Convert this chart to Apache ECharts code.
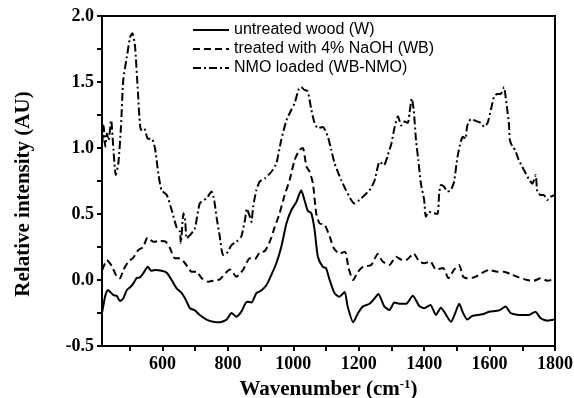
<!DOCTYPE html>
<html>
<head>
<meta charset="utf-8">
<script src="https://cdn.jsdelivr.net/npm/echarts@6/dist/echarts.min.js"></script>
<style>
html,body{margin:0;padding:0;background:#fff;}
#chart{width:574px;height:398px;}
</style>
</head>
<body>
<div id="chart"></div>
<script>
// ---- data ----
const seriesNames = ['untreated wood (W)', 'treated with 4% NaOH (WB)', 'NMO loaded (WB-NMO)'];

const xW = [416,425,433,450,460,470,480,491,501,511,521,531,541,555,565,577,597,613,628,643,659,671,684,699,714,735,755,775,796,811,826,841,858,872,887,902,918,933,948,963,979,994,1009,1024,1034,1044,1055,1065,1075,1090,1100,1111,1126,1141,1157,1166,1183,1198,1213,1233,1248,1260,1278,1294,1309,1324,1345,1365,1385,1400,1419,1436,1451,1461,1482,1495,1507,1519,1532,1547,1578,1598,1629,1649,1664,1689,1720,1740,1756,1776,1800];
const yW = [-0.24,-0.12,-0.076,-0.114,-0.12,-0.16,-0.14,-0.076,-0.055,-0.025,0.015,0.02,0.05,0.10,0.07,0.075,0.07,0.055,0.0,-0.063,-0.10,-0.15,-0.214,-0.23,-0.265,-0.30,-0.316,-0.32,-0.30,-0.25,-0.278,-0.24,-0.164,-0.17,-0.10,-0.08,-0.038,0.04,0.127,0.25,0.43,0.53,0.59,0.68,0.606,0.525,0.505,0.38,0.176,0.10,0.09,0.0,-0.10,-0.127,-0.09,-0.20,-0.32,-0.25,-0.20,-0.18,-0.14,-0.106,-0.20,-0.227,-0.17,-0.18,-0.18,-0.12,-0.197,-0.214,-0.19,-0.265,-0.21,-0.24,-0.316,-0.25,-0.18,-0.25,-0.30,-0.273,-0.26,-0.24,-0.23,-0.20,-0.25,-0.265,-0.265,-0.24,-0.29,-0.308,-0.30];

const xWB = [416,430,445,460,470,480,496,511,526,541,554,572,592,610,623,638,653,669,689,704,720,740,755,775,806,826,846,867,882,897,913,928,943,958,973,989,1004,1019,1029,1040,1050,1060,1070,1080,1096,1111,1124,1141,1158,1169,1183,1198,1213,1238,1258,1273,1294,1314,1334,1349,1368,1385,1400,1419,1436,1458,1474,1491,1507,1519,1532,1553,1578,1598,1624,1644,1664,1689,1715,1735,1756,1776,1800];
const yWB = [0.076,0.15,0.106,0.025,0.013,0.076,0.14,0.17,0.227,0.25,0.32,0.29,0.295,0.29,0.24,0.164,0.164,0.127,0.063,0.063,0.013,-0.013,-0.005,0.005,0.08,0.025,0.076,0.164,0.157,0.207,0.22,0.29,0.40,0.505,0.64,0.76,0.91,0.985,1.0,0.86,0.82,0.73,0.505,0.43,0.417,0.33,0.24,0.20,0.214,0.089,0.0,0.063,0.10,0.114,0.197,0.14,0.114,0.176,0.15,0.157,0.20,0.14,0.127,0.14,0.08,0.09,0.013,0.076,0.114,0.025,0.013,0.02,0.055,0.076,0.063,0.063,0.045,0.02,0.0,-0.005,0.013,-0.005,0.0];

const xNMO = [416,420,425,430,435,443,450,457,465,473,480,491,501,508,516,524,534,544,555,567,577,587,597,613,628,643,653,656,664,669,674,684,699,714,735,750,758,765,775,785,796,811,826,841,852,858,867,872,877,887,897,913,933,948,963,979,994,1004,1017,1024,1034,1044,1055,1065,1075,1090,1105,1116,1126,1136,1146,1161,1177,1187,1202,1218,1233,1248,1264,1277,1289,1300,1309,1320,1330,1340,1350,1355,1362,1368,1375,1382,1390,1400,1405,1415,1431,1441,1446,1451,1461,1471,1481,1491,1502,1512,1519,1526,1532,1543,1553,1563,1573,1584,1594,1604,1614,1624,1634,1644,1649,1654,1659,1662,1670,1678,1689,1705,1719,1731,1741,1746,1756,1766,1776,1786,1800];
const yNMO = [1.04,1.17,1.01,1.11,1.06,1.21,0.985,0.795,0.884,1.16,1.515,1.69,1.84,1.87,1.77,1.46,1.136,1.15,1.07,1.07,0.998,0.81,0.68,0.644,0.53,0.40,0.366,0.28,0.505,0.455,0.316,0.34,0.39,0.58,0.62,0.67,0.606,0.48,0.33,0.19,0.20,0.265,0.29,0.33,0.455,0.54,0.48,0.44,0.555,0.68,0.745,0.77,0.82,0.884,1.06,1.21,1.29,1.34,1.45,1.46,1.44,1.43,1.29,1.19,1.15,1.16,1.09,0.985,0.884,0.82,0.758,0.68,0.606,0.58,0.606,0.644,0.68,0.75,0.896,0.87,0.947,1.036,1.15,1.24,1.17,1.20,1.19,1.26,1.376,1.29,1.06,0.91,0.73,0.606,0.48,0.517,0.505,0.50,0.657,0.72,0.707,0.67,0.68,0.74,0.934,1.05,1.085,1.07,1.17,1.22,1.21,1.20,1.19,1.16,1.19,1.29,1.39,1.41,1.41,1.46,1.39,1.29,1.19,1.06,1.01,0.985,0.91,0.833,0.77,0.73,0.795,0.67,0.644,0.644,0.606,0.63,0.644];

const xTickValues = [500,600,700,800,900,1000,1100,1200,1300,1400,1500,1600,1700,1800];
const xLabelValues = [600,800,1000,1200,1400,1600,1800];
const yLabelValues = [-0.5,0,0.5,1.0,1.5,2.0];

// ---- chart ----
const zip = (xs, ys) => xs.map((x, i) => [x, ys[i]]);
const serif = '"Liberation Serif", "Times New Roman", serif';
const sans = '"Liberation Sans", Arial, sans-serif';
const X_MIN = 415, X_MAX = 1800, Y_MIN = -0.5, Y_MAX = 2.0;

const chart = echarts.init(document.getElementById('chart'), null, {renderer: 'canvas'});
const lineTypes = ['solid', [7, 4], [8, 3, 2, 3]];
const dataSets = [zip(xW, yW), zip(xWB, yWB), zip(xNMO, yNMO)];
const frameData = [[X_MIN, Y_MIN], [X_MIN, Y_MAX], [X_MAX, Y_MAX], [X_MAX, Y_MIN], [X_MIN, Y_MIN]];

// helper axes whose two split lines sit exactly on the plot edges
function edgeAxis(pos) {
  return {
    type: 'value', position: pos, min: 0, max: 1, interval: 1,
    axisLine: {show: false, onZero: false}, axisTick: {show: false}, axisLabel: {show: false},
    splitLine: {show: true, lineStyle: {color: '#000', width: 2, type: 'solid'}}
  };
}

const curveSeries = seriesNames.map((name, i) => ({
  name, type: 'line', data: dataSets[i], xAxisIndex: 0, yAxisIndex: 0,
  symbol: 'none', showSymbol: false, smooth: 0.2,
  lineStyle: {color: '#000', width: 2, type: lineTypes[i]},
  itemStyle: {color: '#000'}
}));

chart.setOption({
  animation: false,
  grid: {left: 102, right: 19, top: 16, bottom: 52, outerBoundsMode: 'none', containLabel: false},
  legend: {
    orient: 'vertical', left: 192, top: 22, padding: 0, itemWidth: 36, itemHeight: 14, itemGap: 3,
    itemStyle: {opacity: 0},
    lineStyle: {width: 2},
    textStyle: {fontFamily: sans, fontSize: 16, color: '#000'},
    data: seriesNames
  },
  xAxis: [{
    type: 'value', min: X_MIN, max: X_MAX,
    axisLine: {show: true, onZero: false, lineStyle: {color: '#000', width: 2}},
    axisTick: {show: true, length: 5, customValues: xTickValues, lineStyle: {color: '#000', width: 2}},
    axisLabel: {customValues: xLabelValues, margin: 9, fontFamily: serif, fontWeight: 'bold', fontSize: 18, color: '#000',
      formatter: v => String(v)},
    splitLine: {show: false},
    name: '{a|Wavenumber (cm}{s|-1}{a|)}',
    nameLocation: 'middle', nameGap: 31,
    nameTextStyle: {
      rich: {
        a: {fontFamily: serif, fontWeight: 'bold', fontSize: 21, color: '#000', lineHeight: 24},
        s: {fontFamily: serif, fontWeight: 'bold', fontSize: 13, color: '#000', verticalAlign: 'top', lineHeight: 14}
      }
    }
  }, edgeAxis('top')],
  yAxis: [{
    type: 'value', min: Y_MIN, max: Y_MAX, interval: 0.25,
    axisLine: {show: true, onZero: false, lineStyle: {color: '#000', width: 2}},
    axisTick: {show: true, length: 5, lineStyle: {color: '#000', width: 2}},
    axisLabel: {margin: 8, fontFamily: serif, fontWeight: 'bold', fontSize: 18, color: '#000',
      formatter: v => (yLabelValues.some(t => Math.abs(t - v) < 1e-9) ? v.toFixed(1) : '')},
    splitLine: {show: false},
    name: 'Relative intensity (AU)',
    nameLocation: 'middle', nameGap: 68,
    nameTextStyle: {fontFamily: serif, fontWeight: 'bold', fontSize: 21, color: '#000', padding: [0, 26, 0, 0]}
  }, edgeAxis('right')],
  series: curveSeries.concat([{
    name: 'frame', type: 'line', data: frameData, xAxisIndex: 0, yAxisIndex: 0,
    symbol: 'none', showSymbol: false, clip: false, silent: true, zlevel: 1, z: 100,
    lineStyle: {color: '#000', width: 2, type: 'solid'}
  }])
});

// extra frame on its own top layer, positioned through the chart's scales
try {
  const p0 = chart.convertToPixel({gridIndex: 0}, [X_MIN, Y_MAX]);
  const p1 = chart.convertToPixel({gridIndex: 0}, [X_MAX, Y_MIN]);
  if (p0 && p1) {
    chart.setOption({
      graphic: [{
        type: 'rect', zlevel: 1, z: 100, silent: true,
        shape: {x: p0[0], y: p0[1], width: p1[0] - p0[0], height: p1[1] - p0[1]},
        style: {fill: 'none', stroke: '#000', lineWidth: 2}
      }]
    });
  }
} catch (e) { /* frame already drawn by the other layers */ }
</script>
</body>
</html>
